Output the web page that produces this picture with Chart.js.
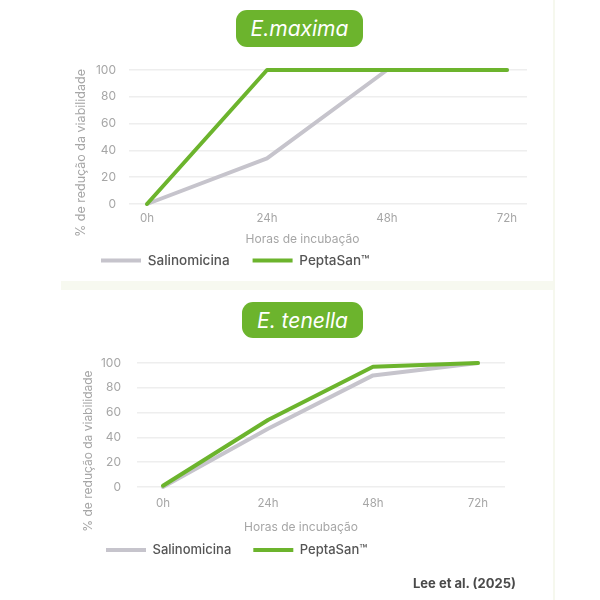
<!DOCTYPE html>
<html>
<head>
<meta charset="utf-8">
<script src="https://cdn.jsdelivr.net/npm/chart.js@4.4.1/dist/chart.umd.min.js"></script>
<style>
	body { margin: 0; background: #ffffff; font-family: Inter, 'Noto Sans', sans-serif; }
	#page { position: relative; width: 600px; height: 600px; overflow: hidden; background: #ffffff; }
	#page canvas { position: absolute; left: 0; }
	.pill { position: absolute; background: #6cb42d; color: #ffffff; border-radius: 11px; font-style: italic; font-size: 21px; font-weight: 400; display: flex; align-items: center; justify-content: center; }
	.strip { position: absolute; left: 61px; top: 281px; width: 492px; height: 9px; background: #f7f9f0; }
	.edge { position: absolute; left: 553px; top: 0; width: 2px; height: 600px; background: #f6f8ee; }
	.ytitle { position: absolute; width: 200px; height: 14px; line-height: 14px; text-align: center; white-space: nowrap; color: #a6a6a6; transform: rotate(-90deg); }
	.source { position: absolute; left: 413px; top: 574px; font-size: 13px; font-weight: 700; color: #4a4a4a; line-height: 18px; }
</style>
</head>
<body>
<div id="page">
	<div class="edge"></div>
	<div class="strip"></div>
	<canvas id="maxima" width="600" height="290" style="top:0"></canvas>
	<canvas id="tenella" width="600" height="310" style="top:290px"></canvas>
	<div class="pill" style="left:236px;top:10px;width:127px;height:37px">E.maxima</div>
	<div class="pill" style="left:242px;top:302px;width:121px;height:36px">E. tenella</div>
	<div class="ytitle" style="left:-19px;top:146px;font-size:12.5px">% de redução da viabilidade</div>
	<div class="ytitle" style="left:-12px;top:444px;font-size:12px">% de redução da viabilidade</div>
	<div class="source">Lee et al. (2025)</div>
</div>
<script>
var hours       = [ 0, 24, 48, 72 ];
var hourLabels  = [ '0h', '24h', '48h', '72h' ];
var yTicks      = [ 0, 20, 40, 60, 80, 100 ];
var seriesNames = [ 'Salinomicina', 'PeptaSan™' ];

// E. maxima
var maximaSalino = [ 0, 34, 100, 100 ];
var maximaPepta  = [ 0, 100, 100, 100 ];

// E. tenella
var tenellaSalino = [ 0, 47, 90, 100 ];
var tenellaPepta  = [ 1, 54, 97, 100 ];

var GREEN = '#6cb42d';
var GREY  = '#c6c4cc';
var FONT  = "Inter, 'Noto Sans', sans-serif";
var MUTED = '#a6a6a6';

function toPoints( values ) {
	return values.map( function ( v, i ) {
		return { x: hours[ i ], y: v };
	} );
}

function lineDataset( label, values, color ) {
	return {
		label: label,
		data: toPoints( values ),
		borderColor: color,
		backgroundColor: color,
		borderWidth: 4,
		pointRadius: 0,
		tension: 0,
		clip: false,
		borderCapStyle: 'round',
		borderJoinStyle: 'round',
	};
}

function makeChart( id, salino, pepta, g ) {
	var config = {
		type: 'line',
		data: {
			// PeptaSan first so it is painted on top; legend is reversed.
			datasets: [
				lineDataset( seriesNames[ 1 ], pepta, GREEN ),
				lineDataset( seriesNames[ 0 ], salino, GREY ),
			],
		},
		options: {
			responsive: false,
			animation: false,
			layout: {
				padding: { top: g.top, left: g.left, right: g.right, bottom: g.bottom },
			},
			plugins: {
				tooltip: { enabled: false },
				legend: {
					position: 'bottom',
					align: 'start',
					reverse: true,
					labels: {
						boxWidth: 40,
						boxHeight: 4,
						padding: g.legendGap,
						color: '#555555',
						font: { family: FONT, size: g.legendSize, weight: '500' },
						generateLabels: function ( chart ) {
							var items = Chart.defaults.plugins.legend.labels.generateLabels( chart );
							items.forEach( function ( item ) {
								item.lineWidth = 0;
								item.fillStyle = item.strokeStyle;
							} );
							return items;
						},
					},
				},
				title: {
					display: true,
					text: 'Horas de incubação',
					position: 'bottom',
					weight: 500,
					color: MUTED,
					font: { family: FONT, size: 12, weight: 'normal' },
					padding: { top: g.titleTop, bottom: g.titleBottom },
				},
			},
			scales: {
				x: {
					type: 'linear',
					min: g.xMin,
					max: g.xMax,
					grid: { display: false, drawTicks: false },
					border: { display: false },
					afterBuildTicks: function ( axis ) {
						axis.ticks = hours.map( function ( h ) {
							return { value: h };
						} );
					},
					afterFit: function ( scale ) {
						scale.height = g.xHeight;
					},
					ticks: {
						padding: g.xTickPad,
						color: MUTED,
						font: { family: FONT, size: 11.5 },
						maxRotation: 0,
						callback: function ( value ) {
							return hourLabels[ hours.indexOf( value ) ];
						},
					},
				},
				y: {
					min: 0,
					max: 100,
					grid: { color: '#eeeeee', lineWidth: 1.5, drawTicks: false },
					border: { display: false },
					afterBuildTicks: function ( axis ) {
						axis.ticks = yTicks.map( function ( v ) {
							return { value: v };
						} );
					},
					afterFit: function ( scale ) {
						scale.width = g.yWidth;
					},
					ticks: {
						padding: g.yTickPad,
						color: MUTED,
						font: { family: FONT, size: 12 },
					},
				},
				// empty right axis, only to balance the centred x title
				yr: {
					type: 'linear',
					position: 'right',
					display: true,
					grid: { display: false, drawTicks: false },
					border: { display: false },
					ticks: { display: false },
					afterFit: function ( scale ) {
						scale.width = g.rightAxis;
					},
				},
			},
		},
	};

	return new Chart( document.getElementById( id ), config );
}

makeChart( 'maxima', maximaSalino, maximaPepta, {
	top: 70, left: 78, right: 73, bottom: 12.75,
	yWidth: 51, yTickPad: 13, rightAxis: 0,
	xMin: -3.6, xMax: 76, xHeight: 25, xTickPad: 8,
	titleTop: 3, titleBottom: -15.65,
	legendGap: 23, legendSize: 13.5,
} );

makeChart( 'tenella', tenellaSalino, tenellaPepta, {
	top: 73, left: 84, right: 82, bottom: 33.5,
	yWidth: 53, yTickPad: 16, rightAxis: 13,
	xMin: -5.94, xMax: 78.17, xHeight: 28, xTickPad: 10,
	titleTop: 5, titleBottom: -12.9,
	legendGap: 22, legendSize: 13,
} );
</script>
</body>
</html>
